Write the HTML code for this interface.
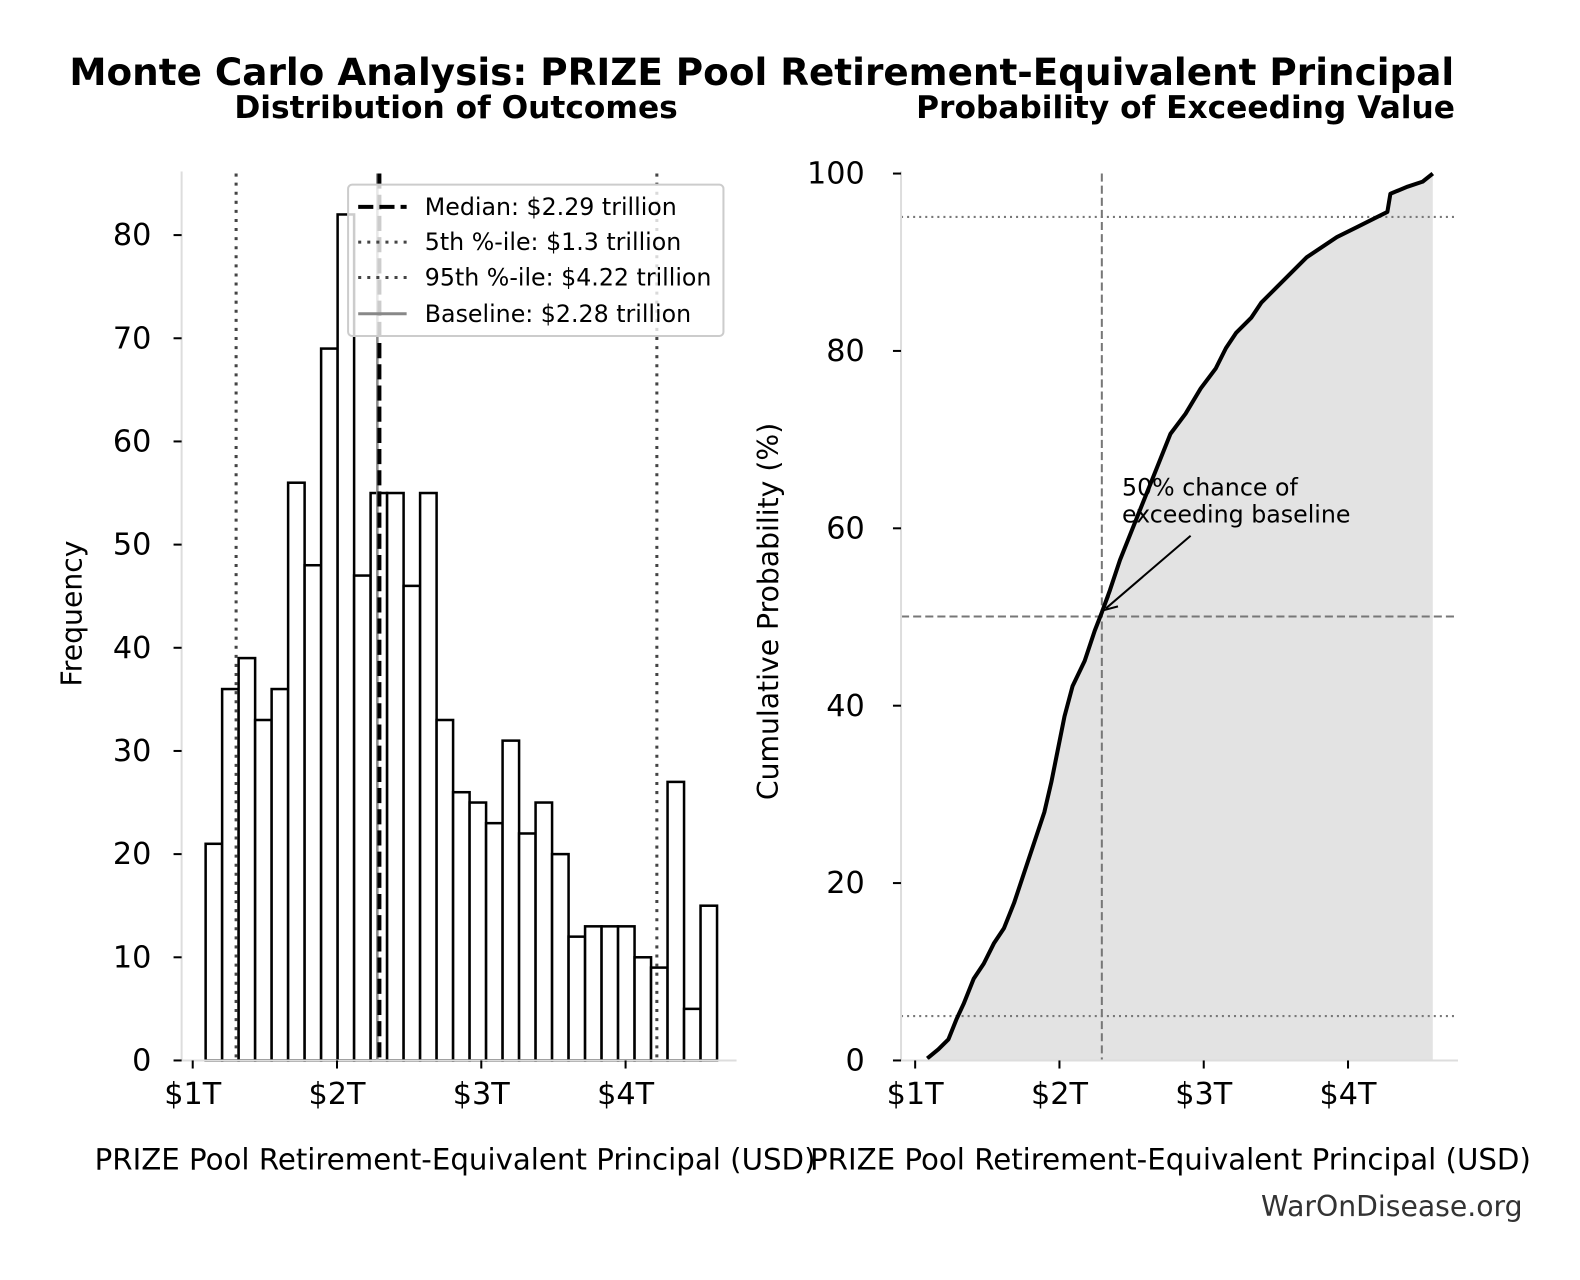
<!DOCTYPE html>
<html><head><meta charset="utf-8"><style>
body{margin:0;background:#fff}
svg{display:block;font-family:"DejaVu Sans","Liberation Sans",sans-serif}
</style></head><body>
<svg width="1580" height="1280" viewBox="0 0 1580 1280" xmlns="http://www.w3.org/2000/svg">
<rect width="1580" height="1280" fill="#fff"/>
<g transform="scale(1.009)">
<text x="755" y="84" font-size="37" font-weight="bold" text-anchor="middle">Monte Carlo Analysis: PRIZE Pool Retirement-Equivalent Principal</text>
<text x="452" y="117" font-size="31" font-weight="bold" text-anchor="middle">Distribution of Outcomes</text>
<text x="1442" y="117" font-size="31" font-weight="bold" text-anchor="end">Probability of Exceeding Value</text>

<!-- LEFT -->
<g id="bars" fill="#fff" stroke="#000" stroke-width="2.5"></g>
<line x1="234" y1="172" x2="234" y2="1051" stroke="#444" stroke-width="3" stroke-dasharray="3,6"/>
<line x1="651" y1="172" x2="651" y2="1051" stroke="#444" stroke-width="3" stroke-dasharray="3,6"/>
<line x1="374" y1="172" x2="374" y2="1051" stroke="#888" stroke-width="2.5"/>
<line x1="376" y1="172" x2="376" y2="1051" stroke="#000" stroke-width="4" stroke-dasharray="15,6"/>
<g stroke="#ddd" stroke-width="2"><line x1="180" y1="170" x2="180" y2="1051"/><line x1="180" y1="1051" x2="730" y2="1051"/></g>
<g id="lyt" font-size="30" text-anchor="end"></g>
<g id="lxt" font-size="30" text-anchor="middle"></g>
<text transform="translate(81,608) rotate(-90)" font-size="28" text-anchor="middle">Frequency</text>
<text x="451" y="1159" font-size="29" text-anchor="middle">PRIZE Pool Retirement-Equivalent Principal (USD)</text>
<rect x="345" y="183" width="372" height="150" rx="4" fill="#fff" fill-opacity="0.8" stroke="#ccc" stroke-width="2"/>
<g font-size="23.5">
<line x1="355" y1="205" x2="403" y2="205" stroke="#000" stroke-width="4" stroke-dasharray="15,6"/><text x="421" y="213">Median: $2.29 trillion</text>
<line x1="355" y1="240" x2="403" y2="240" stroke="#444" stroke-width="3" stroke-dasharray="3,6"/><text x="421" y="248">5th %-ile: $1.3 trillion</text>
<line x1="355" y1="275" x2="403" y2="275" stroke="#444" stroke-width="3" stroke-dasharray="3,6"/><text x="421" y="283">95th %-ile: $4.22 trillion</text>
<line x1="355" y1="311" x2="403" y2="311" stroke="#888" stroke-width="3"/><text x="421" y="319">Baseline: $2.28 trillion</text>
</g>

<!-- RIGHT -->
<path id="fill" fill="#e3e3e3"/>
<g stroke="#777" stroke-width="2">
<line x1="893" y1="215" x2="1445" y2="215" stroke-dasharray="2,4"/>
<line x1="893" y1="1007" x2="1445" y2="1007" stroke-dasharray="2,4"/>
<line x1="893" y1="611" x2="1445" y2="611" stroke-dasharray="8,4"/>
<line x1="1092" y1="172" x2="1092" y2="1051" stroke-dasharray="8,4"/>
</g>
<path id="curve" fill="none" stroke="#000" stroke-width="4" stroke-linejoin="round"/>
<g stroke="#ddd" stroke-width="2"><line x1="893" y1="170" x2="893" y2="1051"/><line x1="893" y1="1051" x2="1445" y2="1051"/></g>
<g id="ryt" font-size="30" text-anchor="end"></g>
<g id="rxt" font-size="30" text-anchor="middle"></g>
<text transform="translate(771,606) rotate(-90)" font-size="28" text-anchor="middle">Cumulative Probability (%)</text>
<text x="1160" y="1159" font-size="29" text-anchor="middle">PRIZE Pool Retirement-Equivalent Principal (USD)</text>
<text x="1112" y="491" font-size="23.5">50% chance of</text>
<text x="1112" y="518" font-size="23.5">exceeding baseline</text>
<line x1="1180" y1="531" x2="1096" y2="603" stroke="#000" stroke-width="2"/>
<path d="M1093,605 L1108,601 M1093,605 L1099,591" stroke="#000" stroke-width="2" fill="none"/>
<text x="1509" y="1205" font-size="28" fill="#333" text-anchor="end">WarOnDisease.org</text>
</g>
</svg>
<script>
const NS="http://www.w3.org/2000/svg";
function el(p,t,a,txt){const e=document.createElementNS(NS,t);for(const k in a)e.setAttribute(k,a[k]);if(txt!==undefined)e.textContent=txt;document.getElementById(p).appendChild(e);}
const h=[21,36,39,33,36,56,48,69,82,47,55,55,46,55,33,26,25,23,31,22,25,20,12,13,13,13,10,9,27,5,15];
h.forEach((v,i)=>{const x=203.8+16.35*i;el("bars","rect",{x:x,y:1051-v*10.225,width:16.35,height:v*10.225});});
for(let v=0;v<=80;v+=10){const y=1051-v*10.225;el("lyt","line",{x1:172,y1:y,x2:180,y2:y,stroke:"#000","stroke-width":2});el("lyt","text",{x:150,y:y+10},String(v));}
["$1T","$2T","$3T","$4T"].forEach((s,i)=>{const x=191+143*i;el("lxt","line",{x1:x,y1:1051,x2:x,y2:1059,stroke:"#000","stroke-width":2});el("lxt","text",{x:x,y:1094},s);
const x2=907+143*i;el("rxt","line",{x1:x2,y1:1051,x2:x2,y2:1059,stroke:"#000","stroke-width":2});el("rxt","text",{x:x2,y:1094},s);});
for(let v=0;v<=100;v+=20){const y=1051-v*8.79;el("ryt","line",{x1:885,y1:y,x2:893,y2:y,stroke:"#000","stroke-width":2});el("ryt","text",{x:857,y:y+10},String(v));}
const pts=[[919,1049],[930,1040],[940,1030],[948,1010],[955,995],[965,970],[975,955],[985,935],[995,920],[1005,895],[1015,865],[1025,835],[1035,805],[1042,775],[1048,745],[1055,710],[1063,680],[1075,655],[1085,625],[1092,607],[1100,585],[1110,555],[1120,530],[1130,505],[1140,480],[1150,455],[1160,430],[1175,410],[1190,385],[1205,365],[1215,345],[1225,330],[1240,315],[1250,300],[1265,285],[1280,270],[1295,255],[1310,245],[1325,235],[1345,225],[1365,215],[1375,210],[1378,192],[1395,185],[1410,180],[1420,172]];
const d="M"+pts.map(p=>p.join(",")).join(" L");
document.getElementById("curve").setAttribute("d",d);
document.getElementById("fill").setAttribute("d",d+" L1420,1051 L919,1051 Z");
</script>
</body></html>
